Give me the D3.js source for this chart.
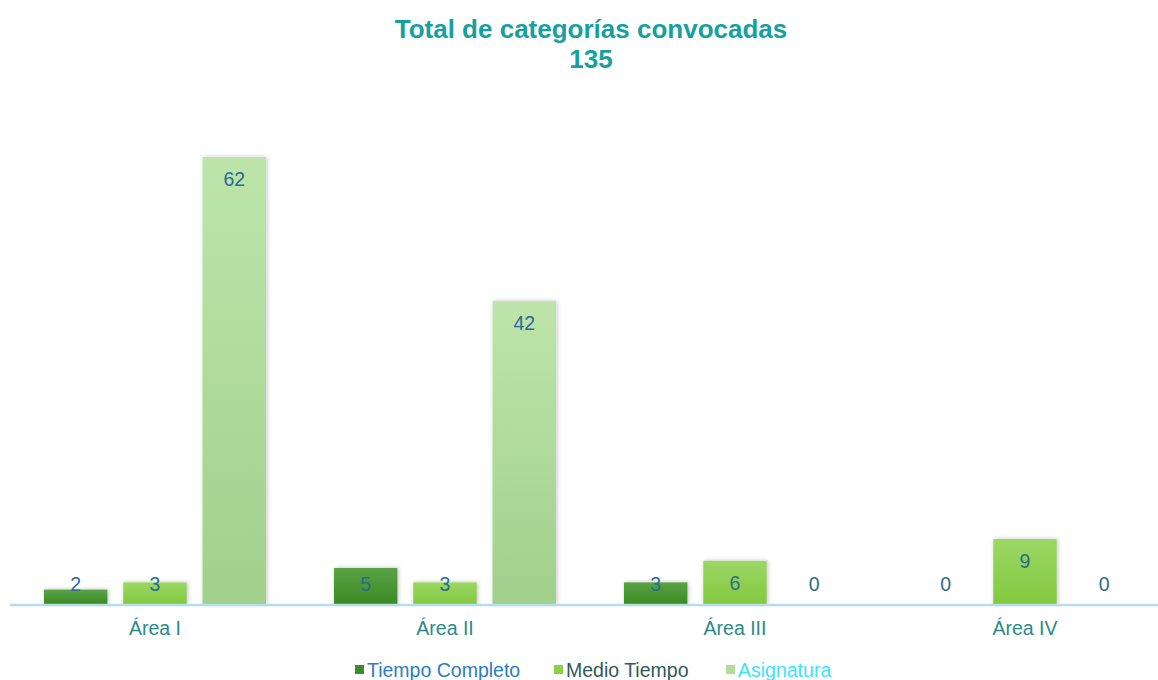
<!DOCTYPE html>
<html>
<head>
<meta charset="utf-8">
<script src="https://cdn.jsdelivr.net/npm/d3@7"></script>
<style>
  body { margin: 0; background: #fff; }
  svg { font-family: "Liberation Sans", Arial, sans-serif; }
</style>
</head>
<body>
<div id="chart"></div>
<script>
// categories and series
const areas = ['Área I', 'Área II', 'Área III', 'Área IV'];
const seriesNames = ['Tiempo Completo', 'Medio Tiempo', 'Asignatura'];
const tiempoCompleto = [2, 5, 3, 0];
const medioTiempo = [3, 3, 6, 9];
const asignatura = [62, 42, 0, 0];
const titleLines = ['Total de categorías convocadas', '135'];

const width = 1158;
const height = 680;
const baseY = 604;

const svg = d3.select("#chart")
    .append("svg")
    .attr("width", width)
    .attr("height", height);

const defs = svg.append("defs");

// gradients for each series
const grads = [
    { id: 'g0', top: '#5aa347', bottom: '#3a8a22' },
    { id: 'g1', top: '#9bd765', bottom: '#83c93e' },
    { id: 'g2', top: '#bde5ab', bottom: '#a1d08b' }
];
grads.forEach(g => {
    const lg = defs.append("linearGradient")
        .attr("id", g.id)
        .attr("x1", 0).attr("y1", 0).attr("x2", 0).attr("y2", 1);
    lg.append("stop").attr("offset", "0%").attr("stop-color", g.top);
    lg.append("stop").attr("offset", "100%").attr("stop-color", g.bottom);
});

const shadow = defs.append("filter").attr("id", "shadow")
    .attr("x", "-20%").attr("y", "-20%").attr("width", "140%").attr("height", "140%");
shadow.append("feDropShadow")
    .attr("dx", 1).attr("dy", 0).attr("stdDeviation", 2)
    .attr("flood-color", "#000").attr("flood-opacity", 0.25);

const x0 = d3.scaleBand()
    .domain(areas)
    .range([10, 1170])
    .paddingInner(0)
    .paddingOuter(0);

const x1 = d3.scaleBand()
    .domain(seriesNames)
    .range([32, x0.bandwidth() - 32])
    .paddingInner(0.2)
    .paddingOuter(0.025);

const y = d3.scaleLinear()
    .domain([0, 70])
    .range([baseY, baseY - 70 * 7.21]);

const color = d3.scaleOrdinal()
    .domain(seriesNames)
    .range(grads.map(g => `url(#${g.id})`));

const legendColor = d3.scaleOrdinal()
    .domain(seriesNames)
    .range(['#3c8c28', '#8ccf4a', '#b0dc9c']);

const legendText = d3.scaleOrdinal()
    .domain(seriesNames)
    .range(['#2b7cc4', '#2f5a5a', '#3be3ff']);

const values = [tiempoCompleto, medioTiempo, asignatura];
const rows = areas.map((a, i) => ({
    area: a,
    items: seriesNames.map((s, j) => ({ series: s, value: values[j][i] }))
}));

// title
svg.append("text")
    .attr("x", 591).attr("y", 38)
    .attr("text-anchor", "middle")
    .attr("font-size", 26).attr("font-weight", "bold")
    .attr("fill", "#17a0a0")
    .text(titleLines[0]);
svg.append("text")
    .attr("x", 591).attr("y", 68)
    .attr("text-anchor", "middle")
    .attr("font-size", 26).attr("font-weight", "bold")
    .attr("fill", "#17a0a0")
    .text(titleLines[1]);

const groups = svg.selectAll("g.area")
    .data(rows)
    .enter()
    .append("g")
    .attr("class", "area")
    .attr("transform", d => `translate(${x0(d.area)},0)`);

groups.selectAll("rect")
    .data(d => d.items)
    .enter()
    .append("rect")
    .attr("x", d => x1(d.series))
    .attr("y", d => y(d.value))
    .attr("width", x1.bandwidth())
    .attr("height", d => baseY - y(d.value))
    .attr("fill", d => color(d.series))
    .attr("filter", "url(#shadow)");

// axis line
svg.append("line")
    .attr("x1", 10).attr("x2", width)
    .attr("y1", baseY + 1).attr("y2", baseY + 1)
    .attr("stroke", "#b5dcef")
    .attr("stroke-width", 2.5);

// value labels
groups.selectAll("text.val")
    .data(d => d.items)
    .enter()
    .append("text")
    .attr("class", "val")
    .attr("x", d => x1(d.series) + x1.bandwidth() / 2)
    .attr("y", d => Math.min(y(d.value) + 22, baseY - 20) + 7)
    .attr("text-anchor", "middle")
    .attr("font-size", 19.5)
    .attr("fill", "#2c6a90")
    .text(d => d.value);

// category labels
const xAxis = svg.append("g")
    .attr("transform", `translate(0,${baseY})`)
    .call(d3.axisBottom(x0).tickSize(0).tickPadding(17));
xAxis.select(".domain").remove();
xAxis.selectAll("text")
    .attr("font-size", 19.5)
    .attr("font-family", "Liberation Sans, Arial, sans-serif")
    .attr("fill", "#2a8a88");

// legend
const legendX = [355, 554, 726];
const legend = svg.selectAll("g.legend")
    .data(seriesNames)
    .enter()
    .append("g")
    .attr("class", "legend")
    .attr("transform", (d, i) => `translate(${legendX[i]},670)`);
legend.append("rect")
    .attr("x", 0).attr("y", -5)
    .attr("width", 9).attr("height", 9)
    .attr("fill", d => legendColor(d));
legend.append("text")
    .attr("x", 12).attr("y", 7)
    .attr("font-size", 19.5)
    .attr("fill", d => legendText(d))
    .text(d => d);
</script>
</body>
</html>
